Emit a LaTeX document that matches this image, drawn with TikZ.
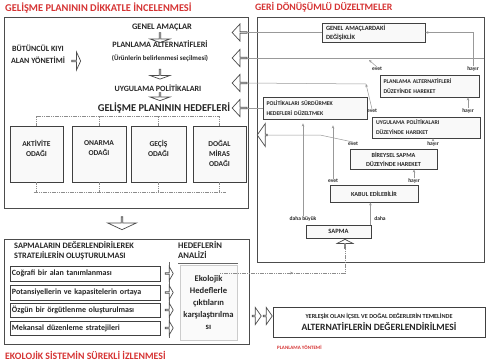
\documentclass[tikz,border=0pt]{standalone}
\usepackage{fontspec}
\setmainfont{Carlito}
\usetikzlibrary{shapes.arrows,arrows.meta,decorations.markings,positioning}
\definecolor{kirmizi}{RGB}{214,52,52}
\newcommand{\harf}[2]{\fontsize{#1}{#2}\selectfont\bfseries}

\begin{document}
\begin{tikzpicture}[x=1pt,y=-1pt,
  baslik/.style={font=\harf{10.4}{11}, text=kirmizi, anchor=west, inner sep=0pt},
  cerceve/.style={draw=black!70, line width=1pt},
  kutu/.style={draw=black!75, line width=0.8pt, fill=gray!5, inner sep=0pt, text=black!85},
  yazi/.style={inner sep=0pt, text=black!85, align=center},
  etiket/.style={font=\harf{5.5}{6}, text=black!85, inner sep=0pt},
  blok/.style={single arrow, draw=black!70, fill=white, line width=0.7pt, inner sep=0pt, single arrow head extend=4pt, single arrow tip angle=120},
  bag/.style={draw=black!40, line width=0.5pt},
  geri/.style={bag, -{Stealth[length=3pt,width=2.6pt]}},
  kesik/.style={draw=black!45, line width=0.6pt, dash pattern=on 1.2pt off 0.6pt}]

\useasboundingbox[fill=white] (0,0) rectangle (487,362);

% basliklar
\node[baslik] (b1) at (5,8) {GELİŞME PLANININ DİKKATLE İNCELENMESİ};
\node[baslik, font=\harf{9.8}{10}] (b2) at (255,7) {GERİ DÖNÜŞÜMLÜ DÜZELTMELER};
\node[baslik, font=\harf{9.8}{10}] (b3) at (5,355) {EKOLOJİK SİSTEMİN SÜREKLİ İZLENMESİ};
\node[baslik, font=\harf{5}{6}] (b4) at (277,347) {PLANLAMA YÖNTEMİ};

% sol ust cerceve
\draw[cerceve] (4,17) rectangle (248,208);
\node[yazi, font=\harf{8}{12}] (butuncul) at (38,54) {BÜTÜNCÜL KIYI\\ALAN YÖNETİMİ};
\node[blok, minimum height=9pt, minimum width=18pt, single arrow tip angle=130] (sagok) at (76,61) {};
\node[yazi, font=\harf{8.4}{9}] (genel) at (162,27) {GENEL AMAÇLAR};
\node[blok, shape border rotate=270, minimum height=10pt, minimum width=20pt, single arrow head extend=5pt, single arrow tip angle=140] (asagi1) at (160,37.5) {};
\node[yazi, font=\harf{8.2}{9}] (planlama) at (160,44) {PLANLAMA ALTERNATİFLERİ};
\node[yazi, font=\harf{6.9}{7}] (urun) at (160,58) {(Ürünlerin belirlenmesi seçilmesi)};
\node[blok, shape border rotate=270, minimum height=10pt, minimum width=20pt, single arrow head extend=5pt, single arrow tip angle=140] (asagi2) at (160,74) {};
\node[yazi, font=\harf{8}{9}] (uygulama) at (158,88) {UYGULAMA POLİTİKALARI};
\node[blok, shape border rotate=270, minimum height=8pt, minimum width=20pt, single arrow head extend=5pt, single arrow tip angle=140] (asagi3) at (160,96.5) {};
\node[yazi, font=\harf{10.5}{11}] (hedefler) at (164,108) {GELİŞME PLANININ HEDEFLERİ};

\foreach \i/\y in {1/32.5,2/58,3/83,4/108}
  \node[blok, shape border rotate=180, minimum height=15pt, minimum width=17pt, single arrow head extend=3.5pt, single arrow tip angle=95] (sol\i) at (240,\y) {};

% odaklar
\node[kutu, minimum width=53pt, minimum height=56pt] (odak1) at (36.5,154) {};
\node[kutu, minimum width=54pt, minimum height=56pt] (odak2) at (99,154) {};
\node[kutu, minimum width=55pt, minimum height=56pt] (odak3) at (158.5,154) {};
\node[kutu, minimum width=53pt, minimum height=56pt] (odak4) at (219.5,154) {};
\node[yazi, anchor=north, font=\harf{7.5}{10}] (odak1y) at (36.5,140) {AKTİVİTE\\ODAĞI};
\node[yazi, anchor=north, font=\harf{7.5}{10}] (odak2y) at (99,140) {ONARMA\\ODAĞI};
\node[yazi, anchor=north, font=\harf{7.5}{10}] (odak3y) at (158.5,140) {GEÇİŞ\\ODAĞI};
\node[yazi, anchor=north, font=\harf{7.5}{10}] (odak4y) at (219.5,140) {DOĞAL\\MİRAS\\ODAĞI};

\coordinate (ust) at (0,116);
\coordinate (alt) at (0,192);
\draw[kesik] (odak1.north |- ust) -- (odak4.north |- ust);
\draw[kesik] ([xshift=-3pt]odak1.south |- alt) -- ([xshift=6pt]odak4.south |- alt);
\foreach \i in {1,...,4} {
  \draw[kesik] (odak\i.north) -- (odak\i.north |- ust);
  \draw[kesik] (odak\i.south) -- (odak\i.south |- alt);
}

\node[blok, shape border rotate=270, minimum height=13pt, minimum width=29pt, single arrow head extend=7pt, single arrow tip angle=130] (asagi4) at (122,223) {};

% sol alt cerceve
\draw[cerceve] (4,239) rectangle (249,344);
\node[yazi, align=left, anchor=north west, font=\harf{8.3}{10}] (sapmalar) at (14,241) {SAPMALARIN DEĞERLENDİRİLEREK\\STRATEJİLERİN OLUŞTURULMASI};
\draw[black!60, line width=0.6pt] (169,262) -- (169,338);
\foreach \i/\y/\h/\t in {1/273.5/15/Coğrafi bir alan tanımlanması,
                         2/292.5/15/Potansiyellerin ve kapasitelerin ortaya,
                         3/310/14/Özgün bir örgütlenme oluşturulması,
                         4/328/14/Mekansal düzenleme stratejileri} {
  \node[kutu, fill=white, minimum width=150pt, minimum height=\h pt, text width=146pt, align=left, font=\harf{8}{8}] (adim\i) at (85,\y) {\t};
  \node[blok, minimum height=8pt, minimum width=14pt, single arrow head extend=3pt] (sag\i) at (169,\y) {};
}
\node[yazi, align=left, anchor=north west, font=\harf{8.6}{10}] (analiz) at (178,241) {HEDEFLERİN\\ANALİZİ};
\draw[black!60, line width=0.6pt] (178,263) -- (238,263);
\node[draw=black!20, fill=gray!4, inner sep=0pt, minimum width=57pt, minimum height=75pt, align=center, font=\harf{8.6}{12}, text=black!85] (eko) at (208.5,302.5) {Ekolojik\\Hedeflerle\\çıktıların\\karşılaştırılma\\sı};

% sag alt
\node[blok, minimum height=9pt, minimum width=17pt, single arrow tip angle=110] (alt1) at (256.5,316) {};
\node[blok, minimum height=9pt, minimum width=17pt, single arrow tip angle=110] (alt2) at (267.5,316) {};
\node[kutu, fill=white, minimum width=212pt, minimum height=30pt, align=center] (alternatif) at (379,322)
  {\harf{6.2}{9}YERLEŞİK OLAN İÇSEL VE DOĞAL DEĞERLERİN TEMELİNDE\\\harf{9.6}{10}ALTERNATİFLERİN DEĞERLENDİRİLMESİ};

% sag cerceve
\draw[cerceve] (257,17) rectangle (484,262);
\node[kutu, minimum width=103pt, minimum height=19pt, text width=95pt, align=left, font=\harf{6.4}{9}] (gd) at (373.5,32.5) {GENEL AMAÇLARDAKİ\\DEĞİŞİKLİK};
\node[kutu, minimum width=99pt, minimum height=22pt, text width=92pt, align=left, font=\harf{5.8}{10}] (pa) at (429.5,86) {PLANLAMA ALTERNATİFLERİ\\DÜZEYİNDE HAREKET};
\node[kutu, minimum width=108pt, minimum height=21pt, text width=100pt, align=left, font=\harf{5.8}{10}] (up) at (426,127.5) {UYGULAMA POLİTİKALARI\\DÜZEYİNDE HAREKET};
\node[kutu, minimum width=104pt, minimum height=22pt, text width=97pt, align=left, font=\harf{5.8}{10}] (pol) at (315,108) {POLİTİKALARI SÜRDÜRMEK\\HEDEFLERİ DÜZELTMEK};
\node[kutu, minimum width=87pt, minimum height=20pt, align=center, font=\harf{6.2}{9}] (bs) at (393.5,159) {BİREYSEL SAPMA\\DÜZEYİNDE HAREKET};
\node[kutu, minimum width=88pt, minimum height=17pt, font=\harf{6.2}{7}] (kb) at (374,193.5) {KABUL EDİLEBİLİR};
\node[kutu, minimum width=65pt, minimum height=13pt, font=\harf{6.5}{7}] (sp) at (338.5,231.5) {SAPMA};
\node[blok, shape border rotate=90, minimum height=9pt, minimum width=16pt, single arrow tip angle=125] (yukari) at (345,244) {};
\node[blok, shape border rotate=180, minimum height=10pt, minimum width=23pt, single arrow head extend=5pt, single arrow tip angle=110] (geriok) at (262.5,135) {};

% evet / hayir
\node[etiket] (pa-e) at (377,69) {evet};
\node[etiket] (pa-h) at (473,69) {hayır};
\node[etiket] (up-e) at (372,111) {evet};
\node[etiket] (up-h) at (468,111) {hayır};
\node[etiket] (bs-e) at (353,144) {evet};
\node[etiket] (bs-h) at (433,144) {hayır};
\node[etiket] (kb-e) at (333,181) {evet};
\node[etiket] (kb-h) at (414,181) {hayır};
\node[etiket] (sp-b) at (303,219) {daha büyük};
\node[etiket] (sp-d) at (380,219) {daha};

% baglantilar
\coordinate (k1) at (369,60);
\coordinate (s1) at (484,58);
\coordinate (k2) at (366,84);
\coordinate (k3) at (320,135);
\coordinate (k4) at (220,273);
\draw[bag] (sol1.tail) -- (gd.west);
\draw[bag] (sol2.tail) -- (s1);
\draw[bag] (sol3.tail) -- (k2);
\draw[bag] (sol4.tail) -- (pol.west);
\draw[geri] (pa-h.north) |- (gd.east);
\draw[geri] (pa-e.north) -- (k1);
\draw[geri] (up-e.north) -- (k2);
\draw[geri] (up-h.north) -- (up-h.north |- pa.south);
\draw[geri] (bs-h.north) -- (bs-h.north |- up.south);
\draw[bag] (bs-e.north) -- (k3) -- (geriok.tail);
\draw[geri] (kb-h.north) -- (kb-h.north |- bs.south);
\draw[geri, shorten >=6pt] (kb-e.north) -- (kb-e.north |- pol.south);
\draw[geri, shorten >=4pt] (sp-b.north) -- (sp-b.north |- pol.south);
\draw[geri] ([xshift=-1pt]sp.north east) -- ([xshift=-1pt]sp.north east |- kb.south);
\draw[kesik, postaction={decorate}, decoration={markings, mark=at position 0.49 with {\arrow{Stealth[length=3pt,width=2.6pt]}}}] (k4) -| (yukari.tail);

\end{tikzpicture}
\end{document}
